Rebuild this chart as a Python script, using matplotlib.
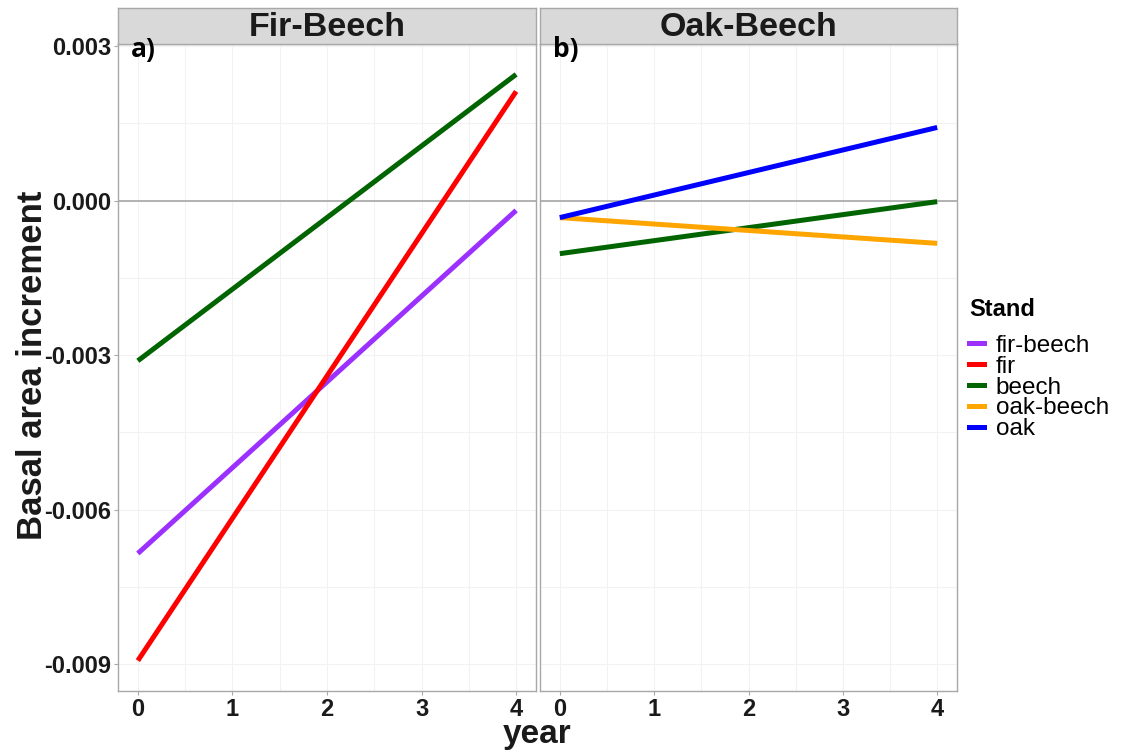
import matplotlib
matplotlib.use("Agg")
import matplotlib.pyplot as plt
from matplotlib.lines import Line2D
import numpy as np

plt.rcParams['font.family'] = ['Liberation Sans', 'DejaVu Sans']

years = [0, 4]
panels = ["Fir-Beech", "Oak-Beech"]
panel_tags = ["a)", "b)"]

# series per panel: (name, start value, end value)
fb_names = ["fir-beech", "fir", "beech"]
fb_start = [-0.00685, -0.00893, -0.00311]
fb_end = [-0.00019, 0.00212, 0.00245]

ob_names = ["beech", "oak-beech", "oak"]
ob_start = [-0.00103, -0.00033, -0.00033]
ob_end = [-0.00002, -0.00083, 0.00142]

legend_names = ["fir-beech", "fir", "beech", "oak-beech", "oak"]
colors = {"fir-beech": "#9B30FF", "fir": "#FF0000", "beech": "#006400",
          "oak-beech": "#FFA500", "oak": "#0000FF"}

yticks = [0.003, 0.0, -0.003, -0.006, -0.009]
ytick_labels = ["0.003", "0.000", "-0.003", "-0.006", "-0.009"]
xticks = [0, 1, 2, 3, 4]

W, H = 1123, 751
fig = plt.figure(figsize=(W / 100, H / 100), dpi=100)

def fx(px):
    return px / W

def fy(py):
    return 1 - py / H

panel_px = [(118, 536), (540, 957)]
top_px, bot_px = 44, 691
strip_top = 8

data = [(fb_names, fb_start, fb_end), (ob_names, ob_start, ob_end)]

for i, ((l, r), (names, s, e)) in enumerate(zip(panel_px, data)):
    ax = fig.add_axes([fx(l), fy(bot_px), fx(r - l), fy(top_px) - fy(bot_px)])
    ax.set_xlim(-0.21, 4.21)
    ax.set_ylim(-0.00952, 0.00304)
    # grid
    for xv in np.arange(0, 4.01, 0.5):
        ax.axvline(xv, color="#F2F2F2", lw=0.8, zorder=0)
    for yv in np.arange(-0.009, 0.0031, 0.0015):
        ax.axhline(yv, color="#F2F2F2", lw=0.8, zorder=0)
    ax.axhline(0, color="#A6A6A6", lw=1.2, zorder=1)
    for n, a, b in zip(names, s, e):
        ax.plot(years, [a, b], color=colors[n], lw=3.6, solid_capstyle="butt", zorder=2)
    for sp in ax.spines.values():
        sp.set_color("#A8A8A8")
        sp.set_linewidth(1.0)
    ax.set_xticks(xticks)
    ax.set_xticklabels([str(t) for t in xticks], fontsize=17, fontweight="bold", color="#1a1a1a")
    ax.tick_params(axis="x", length=3, color="#A8A8A8", pad=2)
    if i == 0:
        ax.set_yticks(yticks)
        ax.set_yticklabels(ytick_labels, fontsize=17, fontweight="bold", color="#1a1a1a")
        ax.tick_params(axis="y", length=3, color="#A8A8A8", pad=2)
    else:
        ax.set_yticks(yticks)
        ax.set_yticklabels([])
        ax.tick_params(axis="y", length=0)
    # strip
    sax = fig.add_axes([fx(l), fy(top_px), fx(r - l), fy(strip_top) - fy(top_px)])
    sax.set_facecolor("#D9D9D9")
    sax.set_xticks([])
    sax.set_yticks([])
    for sp in sax.spines.values():
        sp.set_color("#A8A8A8")
        sp.set_linewidth(1.0)
    sax.text(0.5, 0.45, panels[i], transform=sax.transAxes, ha="center", va="center",
             fontsize=24.5, fontweight="bold", color="#1a1a1a")
    # panel tag drawn on the figure so it sits above the strip
    fig.text(fx(l + 13), fy(36), panel_tags[i], ha="left", va="top",
             fontsize=19, fontweight="bold", family=["Open Sans", "DejaVu Sans"],
             color="#000000", zorder=10)

fig.text(fx(33), fy(365), "Basal area increment", rotation=90, ha="center", va="center",
         fontsize=25, fontweight="bold", color="#1a1a1a")
fig.text(fx(537), fy(750), "year", ha="center", va="bottom",
         fontsize=24, fontweight="bold", color="#1a1a1a")

handles = [Line2D([0], [0], color=colors[n], lw=3.6) for n in legend_names]
leg = fig.legend(handles, legend_names, title="Stand", loc="upper left",
                 bbox_to_anchor=(fx(969), fy(298)), frameon=False,
                 prop={"size": 17.5}, handlelength=0.6, handletextpad=0.5,
                 labelspacing=-0.05, borderaxespad=0, borderpad=0)
leg.get_title().set_fontsize(17)
leg.get_title().set_fontweight("bold")
leg._legend_box.align = "left"
leg._legend_box.sep = 10

fig.savefig("out.png", dpi=100)
